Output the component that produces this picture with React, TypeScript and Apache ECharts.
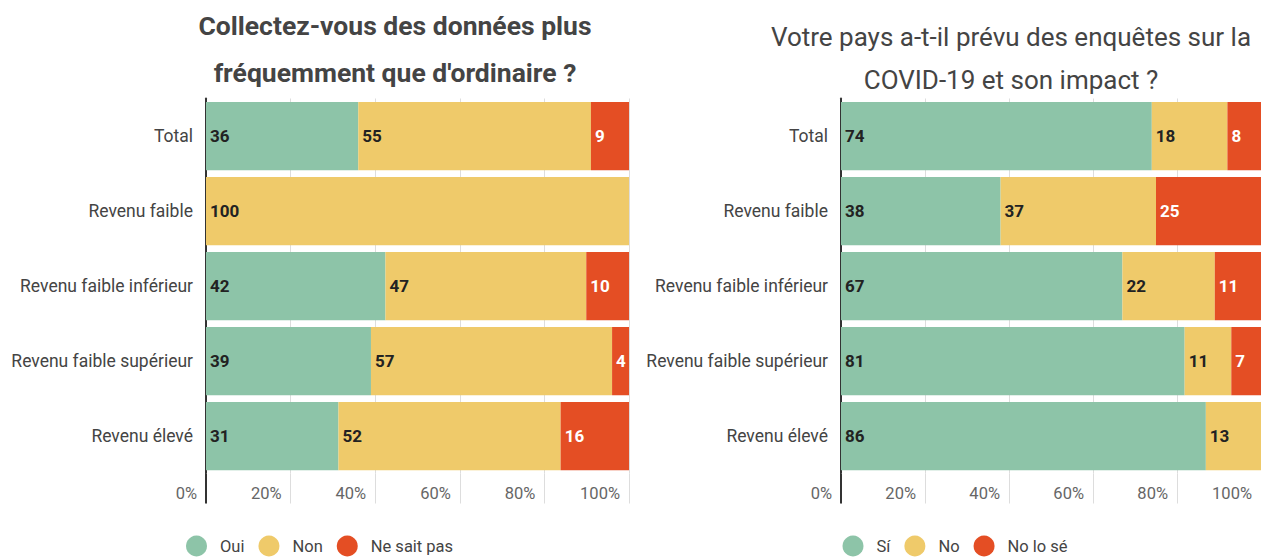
import React, { useEffect, useRef } from "react";
import * as echarts from "echarts";

const categories = [
  "Total",
  "Revenu faible",
  "Revenu faible inférieur",
  "Revenu faible supérieur",
  "Revenu élevé",
];

const leftTitle = "Collectez-vous des données plus\nfréquemment que d'ordinaire ?";
const rightTitle = "Votre pays a-t-il prévu des enquêtes sur la\nCOVID-19 et son impact ?";

const leftNames = ["Oui", "Non", "Ne sait pas"];
const leftOui = [36, 0, 42, 39, 31];
const leftNon = [55, 100, 47, 57, 52];
const leftNsp = [9, 0, 10, 4, 16];

const rightNames = ["Sí", "No", "No lo sé"];
const rightSi = [74, 38, 67, 81, 86];
const rightNo = [18, 37, 22, 11, 13];
const rightNls = [8, 25, 11, 7, 0];

const tickValues = [0, 20, 40, 60, 80, 100];

const COLORS = ["#8dc4a8", "#efca6a", "#e44e24"];
const LABEL_COLORS = ["#222222", "#222222", "#ffffff"];
const FONT = "Roboto, 'Noto Sans', sans-serif";

function shares(groups: number[][]) {
  const totals = groups[0].map((_, i) => groups.reduce((s, g) => s + g[i], 0));
  return groups.map((g) =>
    g.map((v, i) => ({ value: totals[i] ? (v / totals[i]) * 100 : 0, raw: v }))
  );
}

export default function App() {
  const ref = useRef<HTMLDivElement>(null);

  useEffect(() => {
    if (!ref.current) return;
    const chart = echarts.init(ref.current, undefined, { renderer: "svg" });

    const leftData = shares([leftOui, leftNon, leftNsp]);
    const rightData = shares([rightSi, rightNo, rightNls]);

    const makeX = (gridIndex: number) => [
      {
        type: "value",
        gridIndex,
        min: 0,
        max: 100,
        interval: 20,
        position: "bottom",
        axisLine: { show: false },
        axisTick: {
          show: true,
          length: 30,
          lineStyle: { color: "#dddddd", width: 1 },
        },
        splitLine: { show: true, lineStyle: { color: "#dddddd", width: 1 } },
        axisLabel: {
          show: true,
          customValues: tickValues,
          formatter: (v: number) => `${v}%`,
          align: "right",
          padding: [0, 9, 0, 0],
          margin: 11,
          color: "#666666",
          fontSize: 16.5,
          fontFamily: FONT,
        },
      },
      {
        type: "value",
        gridIndex,
        min: 0,
        max: 100,
        interval: 20,
        position: "bottom",
        axisLine: { show: false },
        splitLine: { show: false },
        axisLabel: { show: false },
        axisTick: {
          show: true,
          customValues: [0],
          length: 30,
          lineStyle: { color: "#333333", width: 2 },
        },
      },
    ];

    const makeY = (gridIndex: number) => ({
      type: "category",
      gridIndex,
      data: categories,
      inverse: true,
      axisLine: { show: true, lineStyle: { color: "#333333", width: 2 } },
      axisTick: { show: false },
      axisLabel: {
        color: "#444444",
        fontSize: 17.5,
        fontFamily: FONT,
        margin: 13,
      },
    });

    const makeSeries = (names: string[], data: any[], xAxisIndex: number, yAxisIndex: number, stack: string) =>
      names.map((name, k) => ({
        name,
        type: "bar",
        stack,
        xAxisIndex,
        yAxisIndex,
        barCategoryGap: "9%",
        itemStyle: { color: COLORS[k] },
        label: {
          show: true,
          position: "insideLeft",
          distance: 4,
          color: LABEL_COLORS[k],
          fontWeight: "bold",
          fontSize: 17,
          fontFamily: FONT,
          formatter: (p: any) => (p.data.raw ? String(p.data.raw) : ""),
        },
        data: data[k],
      }));

    const legendStyle = {
      padding: 0,
      icon: "circle",
      itemWidth: 21,
      itemHeight: 21,
      itemGap: 14,
      textStyle: { fontSize: 16.5, color: "#444444", fontFamily: FONT, padding: [0, 0, 0, 8] },
    };

    chart.setOption({
      animation: false,
      textStyle: { fontFamily: FONT },
      title: [
        {
          text: leftTitle,
          left: 395,
          top: 1.5,
          padding: 0,
          textAlign: "center",
          textStyle: {
            fontFamily: FONT,
            fontSize: 26.5,
            fontWeight: "bold",
            color: "#444444",
            lineHeight: 47,
          },
        },
        {
          text: rightTitle,
          left: 1011,
          top: 15.5,
          padding: 0,
          textAlign: "center",
          textStyle: {
            fontFamily: FONT,
            fontSize: 26,
            fontWeight: "normal",
            color: "#444444",
            lineHeight: 43,
          },
        },
      ],
      legend: [
        { ...legendStyle, data: leftNames, left: 186, top: 535.5 },
        { ...legendStyle, data: rightNames, left: 842.5, top: 535.5 },
      ],
      grid: [
        { left: 206, top: 98.5, width: 423, height: 375, containLabel: false },
        { left: 841, top: 98.5, width: 424, height: 375, containLabel: false },
      ],
      xAxis: [...makeX(0), ...makeX(1)],
      yAxis: [makeY(0), makeY(1)],
      series: [
        ...makeSeries(leftNames, leftData, 0, 0, "left"),
        ...makeSeries(rightNames, rightData, 2, 1, "right"),
      ],
    });

    return () => chart.dispose();
  }, []);

  return (
    <div
      ref={ref}
      style={{ position: "fixed", left: 0, top: 0, width: 1261, height: 557, background: "#ffffff" }}
    />
  );
}
